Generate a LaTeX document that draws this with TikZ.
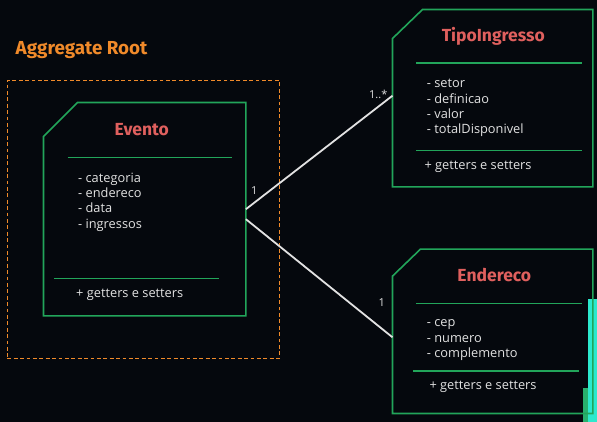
\documentclass[tikz,border=0pt]{standalone}
\usepackage{fontspec}
\setmainfont{Open Sans}
\newfontfamily\titlefont{Fira Sans}
\definecolor{bgc}{HTML}{05080D}
\definecolor{boxgreen}{HTML}{22A55A}
\definecolor{titlered}{HTML}{E0605E}
\definecolor{orangec}{HTML}{F08A2A}
\definecolor{txtc}{HTML}{E2E2E2}
\definecolor{tealc}{HTML}{3FE0B8}
\tikzset{
  umlbox/.style={draw=none, inner sep=0pt},
  outline/.style={draw=boxgreen, line width=1.6pt},
  divider/.style={draw=boxgreen, line width=1.6pt},
  umltitle/.style={text=titlered, font=\titlefont\fontsize{17.5}{20}\selectfont\bfseries, inner sep=0pt},
  attr/.style={text=txtc, font=\fontsize{12.8}{15.3}\selectfont, align=left, anchor=west, inner sep=0pt},
  mult/.style={text=txtc, font=\fontsize{11}{12}\selectfont, inner sep=0pt},
  assoc/.style={draw=txtc, line width=1.8pt},
}
\begin{document}
\begin{tikzpicture}[x=1pt,y=-1pt]
\fill[bgc] (0,0) rectangle (597,422);
\useasboundingbox (0,0) rectangle (597,422);

% webcam overlay edge
\fill[tealc!70!cyan] (588,299) rectangle (597,422);
\fill[boxgreen!80!tealc] (583,388) rectangle (588,422);

% aggregate root
\node[text=orangec, font=\titlefont\fontsize{18.8}{20}\selectfont\bfseries, anchor=west, inner sep=0pt] (aggtitle) at (15.5,50.5) {Aggregate Root};
\node[draw=orangec, line width=1.4pt, dash pattern=on 3.8pt off 2.6pt, minimum width=272pt, minimum height=277.6pt, inner sep=0pt] (agg) at (143.3,219.5) {};

% Evento
\node[umlbox, minimum width=202pt, minimum height=213pt] (evento) at (144.7,209.2) {};
\draw[outline] ([xshift=34pt]evento.north west) -- (evento.north east) -- (evento.south east) -- (evento.south west) -- ([yshift=-34pt]evento.north west) -- cycle;
\node[umltitle] (eventoT) at (141.7,130) {Evento};
\draw[divider] (67.7,157.7) -- (232.3,157.7);
\node[attr] (eventoA) at (78,202) {- categoria\\- endereco\\- data\\- ingressos};
\draw[divider] (54.3,278.3) -- (219.3,278.3);
\node[attr] (eventoM) at (76,295) {+ getters e setters};

% TipoIngresso
\node[umlbox, minimum width=200pt, minimum height=177pt] (tipo) at (492.7,98.2) {};
\draw[outline] ([xshift=30pt]tipo.north west) -- (tipo.north east) -- (tipo.south east) -- (tipo.south west) -- ([yshift=-29pt]tipo.north west) -- cycle;
\node[umltitle] (tipoT) at (493.3,36) {TipoIngresso};
\draw[divider] (416,63.3) -- (581.7,63.3);
\node[attr] (tipoA) at (426.7,108) {- setor\\- definicao\\- valor\\- totalDisponivel};
\draw[divider] (416,150.7) -- (581.7,150.7);
\node[attr] (tipoM) at (424.3,166.7) {+ getters e setters};

% Endereco
\node[umlbox, minimum width=200pt, minimum height=164pt] (end) at (492.7,331.3) {};
\draw[outline] ([xshift=28pt]end.north west) -- (end.north east) -- (end.south east) -- (end.south west) -- ([yshift=-27pt]end.north west) -- cycle;
\node[umltitle] (endT) at (494.3,275.3) {Endereco};
\draw[divider] (416,303.3) -- (581.7,303.3);
\node[attr] (endA) at (426.7,340.2) {- cep\\- numero\\- complemento};
\draw[divider] (413.3,371) -- (579.3,371);
\node[attr] (endM) at (429.3,386.7) {+ getters e setters};

% associations
\draw[assoc] (evento.east) -- ([yshift=2.5pt]tipo.west);
\draw[assoc] ([yshift=-10pt]evento.east) -- ([yshift=-6pt]end.west);
\node[mult] (m1) at (254.3,191) {1};
\node[mult] (m2) at (378.3,94) {1..*};
\node[mult] (m3) at (381.7,302.3) {1};
\end{tikzpicture}
\end{document}
